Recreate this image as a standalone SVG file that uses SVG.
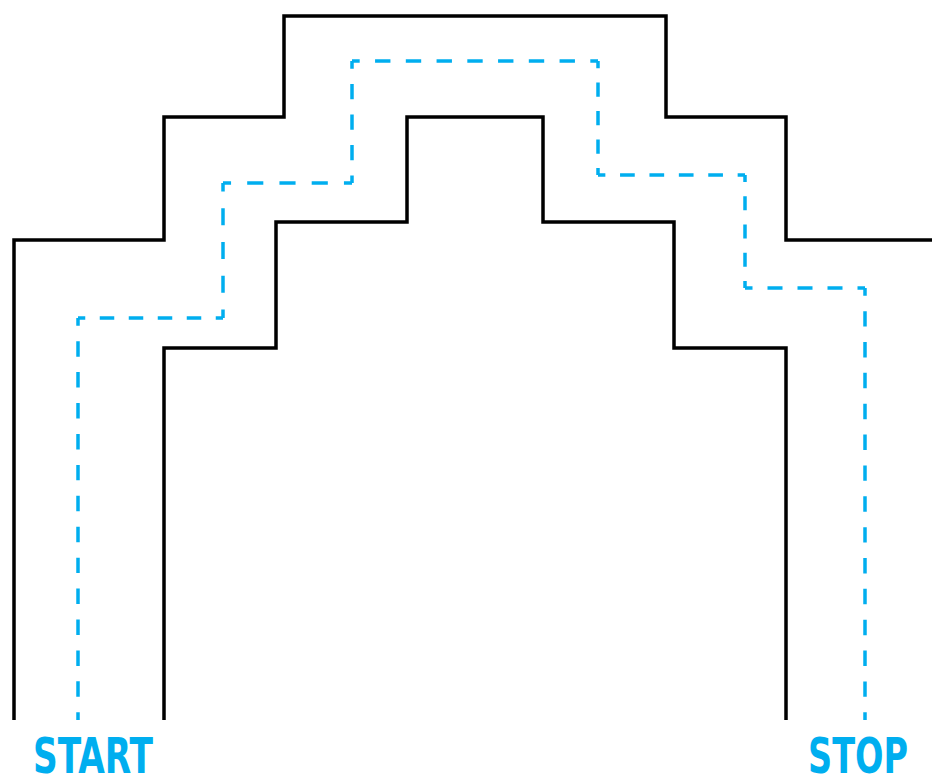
<svg xmlns="http://www.w3.org/2000/svg" width="932" height="777" viewBox="0 0 932 777">
<style>
.wall{fill:none;stroke:#000;stroke-width:3.5;stroke-linejoin:miter;stroke-linecap:butt}
.route line{stroke:#00AEEF;stroke-width:3.5;stroke-dasharray:15 15;stroke-dashoffset:7.5;fill:none}
.lbl{fill:#00AEEF;font-family:"Liberation Sans Narrow","DejaVu Sans Condensed","Liberation Sans",sans-serif;font-weight:bold;font-size:49px}
</style>
<rect width="932" height="777" fill="#fff"/>
<g id="walls">
<path id="outer-wall" class="wall" d="M14,720 V240 H164 V117 H284 V16 H666 V117 H786 V240 H932"/>
<path id="inner-wall" class="wall" d="M164,720 V348 H276 V222 H407 V117 H543 V222 H674 V348 H786 V720"/>
</g>
<g id="connectors" class="route">
<line x1="78" y1="720" x2="78" y2="318" pathLength="390"/>
<line x1="78" y1="318" x2="223" y2="318" pathLength="150"/>
<line x1="223" y1="318" x2="223" y2="183" pathLength="120"/>
<line x1="223" y1="183" x2="352" y2="183" pathLength="120"/>
<line x1="352" y1="183" x2="352" y2="61" pathLength="120"/>
<line x1="352" y1="61" x2="598" y2="61" pathLength="240"/>
<line x1="598" y1="61" x2="598" y2="175" pathLength="120"/>
<line x1="598" y1="175" x2="745" y2="175" pathLength="150"/>
<line x1="745" y1="175" x2="745" y2="288" pathLength="120"/>
<line x1="745" y1="288" x2="865" y2="288" pathLength="120"/>
<line x1="865" y1="288" x2="865" y2="720" pathLength="420"/>
</g>
<g id="start">
<text class="lbl" x="33" y="773" textLength="120" lengthAdjust="spacingAndGlyphs">START</text>
</g>
<g id="stop">
<text class="lbl" x="808" y="773" textLength="100" lengthAdjust="spacingAndGlyphs">STOP</text>
</g>
</svg>
